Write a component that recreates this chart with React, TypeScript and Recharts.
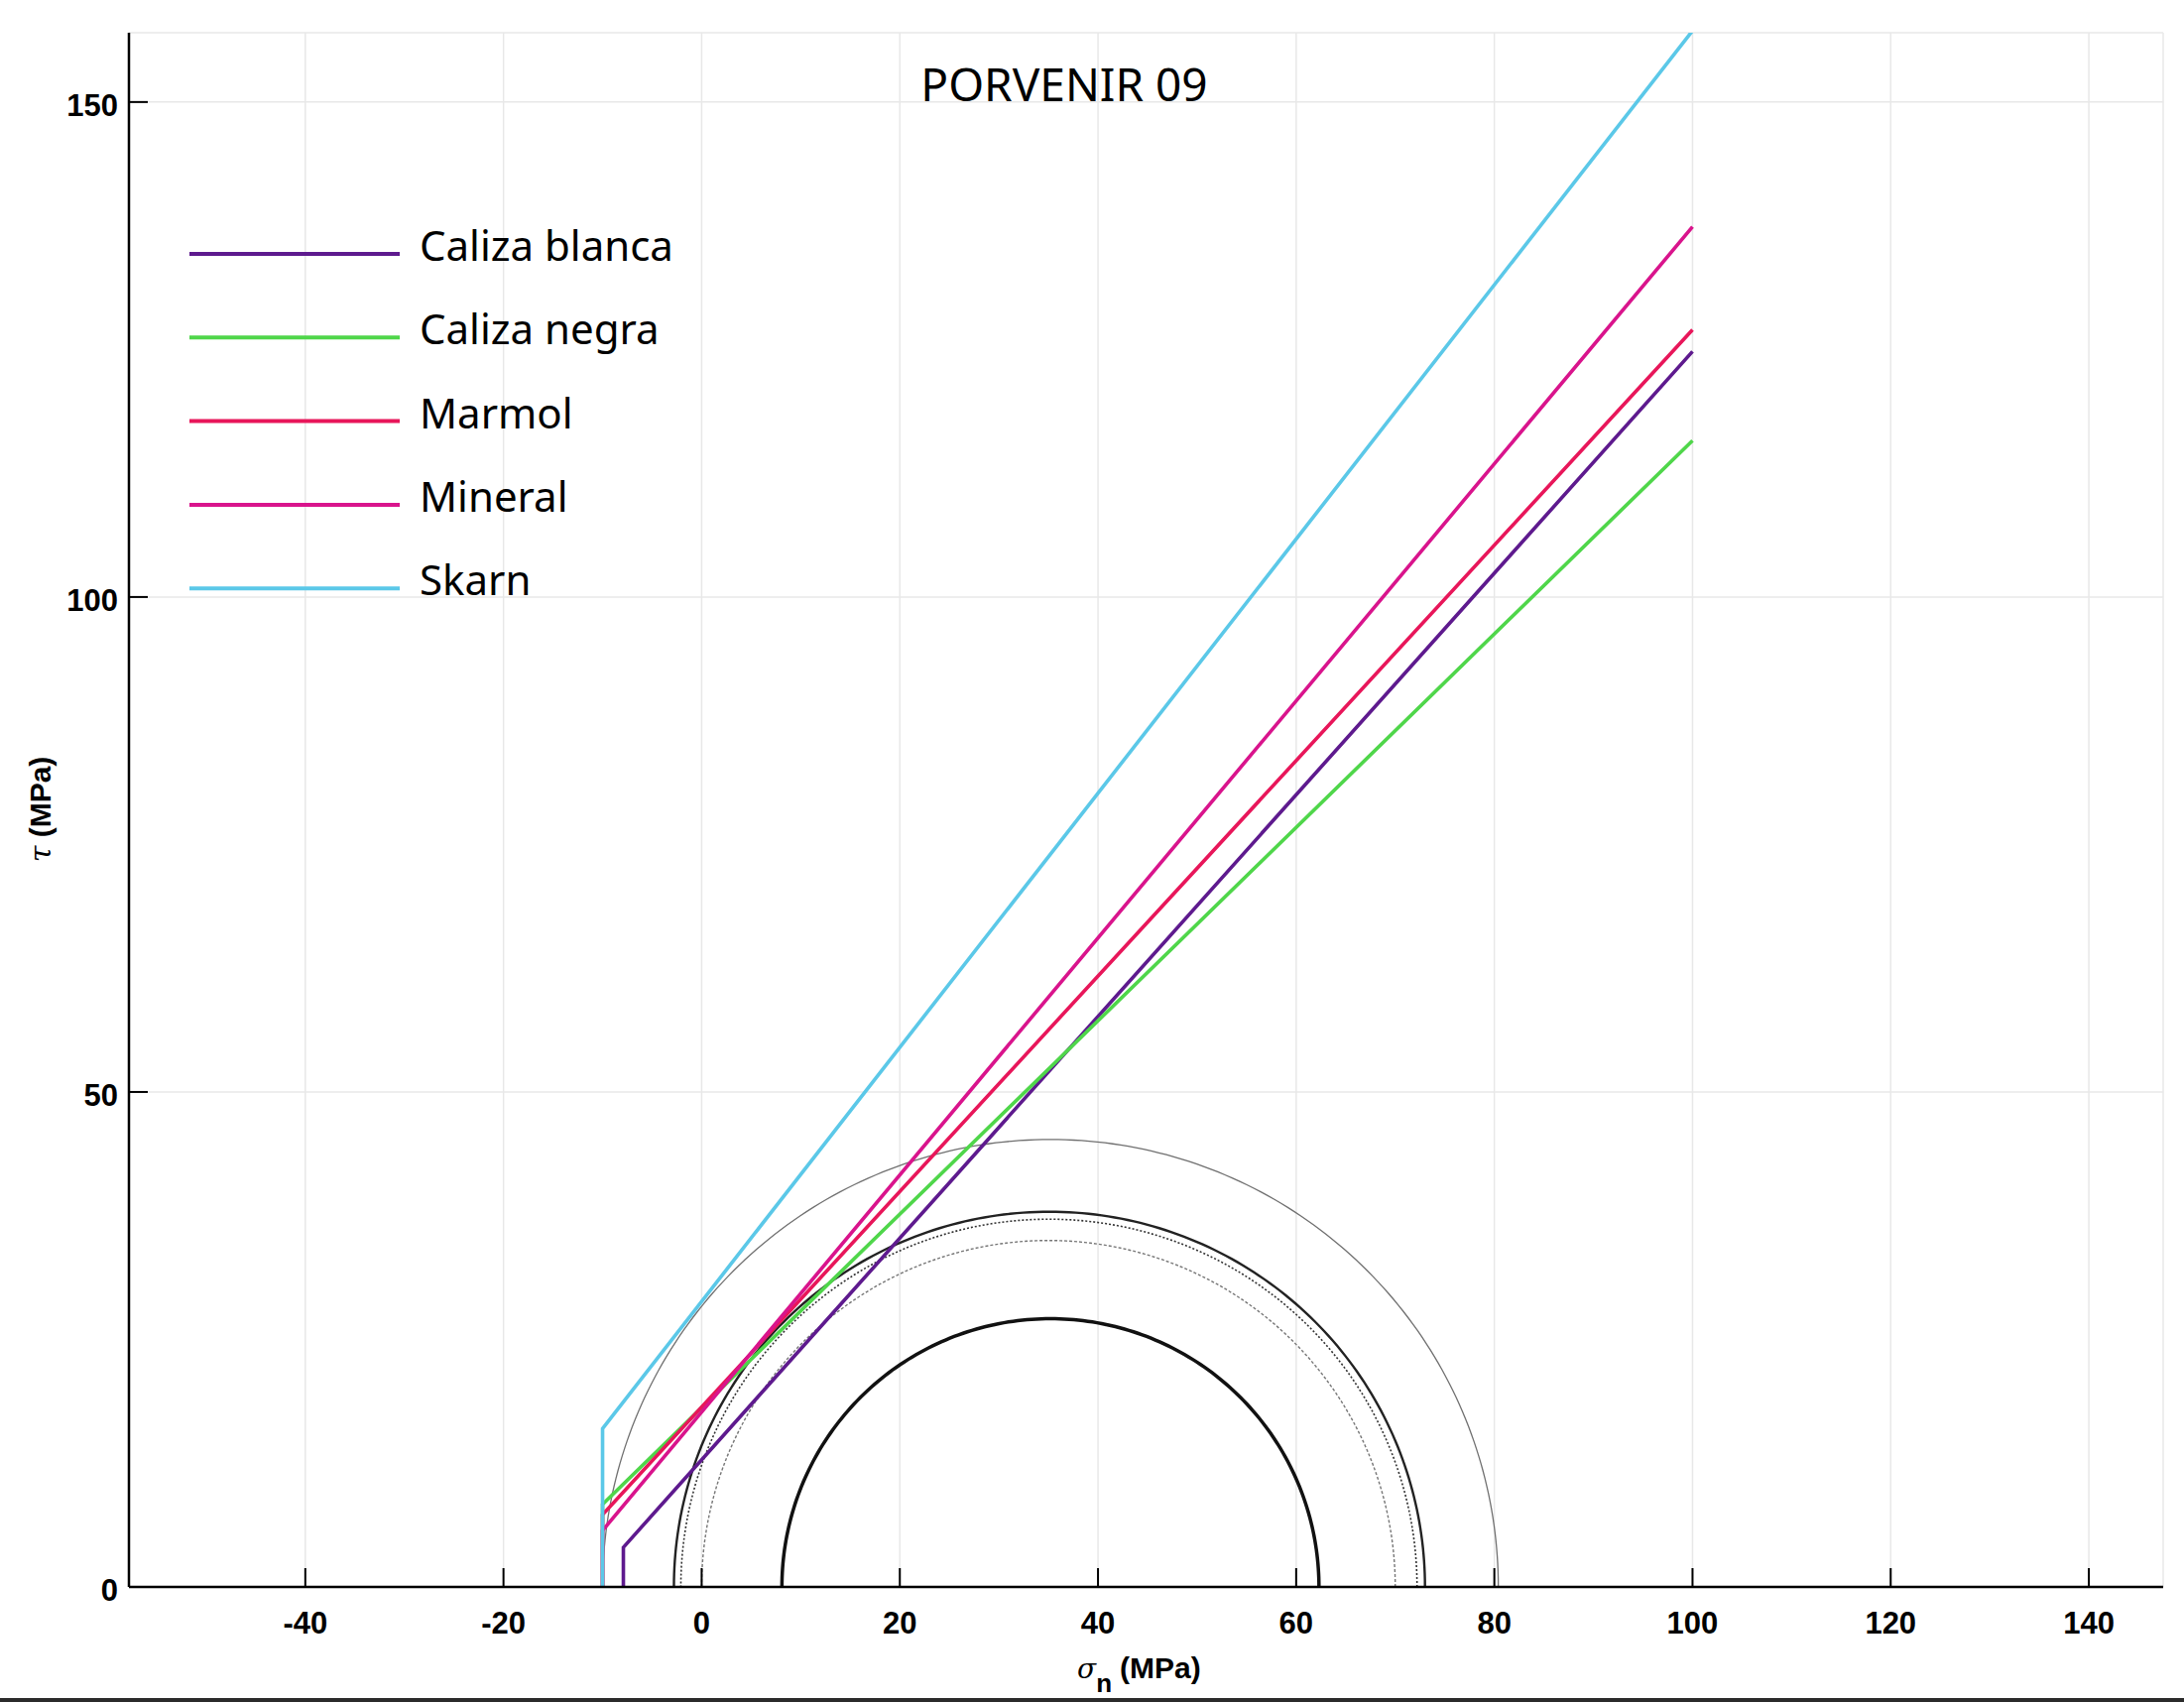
import { ComposedChart, Line, XAxis, YAxis, CartesianGrid, Legend } from "recharts";

const xTicks = [-40, -20, 0, 20, 40, 60, 80, 100, 120, 140];
const yTicks = [0, 50, 100, 150];

// Mohr circles (sigma3, sigma1 in MPa)
const circleSigma3 = [8.1, 0, -2.1, -2.8, -10];
const circleSigma1 = [62.3, 70, 72.2, 73.0, 80.4];
const circleStroke = ["#111111", "#777777", "#333333", "#222222", "#707070"];
const circleWidth = [3.5, 1.4, 1.6, 2.4, 1.3];
const circleDash = ["", "3 2", "2 2", "", ""];

// Envelopes with tension cut-off
const rockNames = ["Caliza blanca", "Caliza negra", "Marmol", "Mineral", "Skarn"];
const rockColors = ["#5E1A8E", "#4FD64A", "#E8165A", "#D9148C", "#5BC8E8"];
const tensionCutoff = [-7.9, -10, -10, -10, -10];
const tauAtCutoff = [4.0, 8.35, 7.3, 5.7, 16.0];
const tauAt100 = [124.8, 115.8, 127.0, 137.4, 157.2];

const TICK_FONT = "'Liberation Sans', Arial, sans-serif";

function semicircle(s3: number, s1: number) {
  const c = (s1 + s3) / 2;
  const r = (s1 - s3) / 2;
  const pts = [];
  for (let i = 0; i <= 180; i++) {
    const a = (Math.PI * i) / 180;
    pts.push({ s: c + r * Math.cos(a), t: r * Math.sin(a) });
  }
  return pts;
}

const circles = circleSigma3.map((s3, i) => semicircle(s3, circleSigma1[i]));

const envelopes = rockNames.map((name, i) => ({
  name,
  color: rockColors[i],
  data: [
    { s: tensionCutoff[i], t: 0 },
    { s: tensionCutoff[i], t: tauAtCutoff[i] },
    { s: 100, t: tauAt100[i] },
  ],
}));

const XTick = ({ x, y, payload }: any) => (
  <g>
    <line x1={x} y1={y} x2={x} y2={y - 19} stroke="#000" strokeWidth={2} />
    <text x={x} y={y + 47} textAnchor="middle" fontFamily={TICK_FONT} fontWeight="bold" fontSize={31} fill="#000">
      {payload.value}
    </text>
  </g>
);

const YTick = ({ x, y, payload }: any) => (
  <g>
    <line x1={x} y1={y} x2={x + 19} y2={y} stroke="#000" strokeWidth={2} />
    <text x={x - 11} y={y + 14} textAnchor="end" fontFamily={TICK_FONT} fontWeight="bold" fontSize={31} fill="#000">
      {payload.value}
    </text>
  </g>
);

const LegendBox = () => (
  <svg width={700} height={420} style={{ display: "block", overflow: "visible" }}>
    {envelopes.map((e, i) => {
      const cy = 36 + i * 84.3;
      return (
        <g key={e.name}>
          <line x1={0} y1={cy} x2={212} y2={cy} stroke={e.color} strokeWidth={4} />
          <text x={232} y={cy + 7} fontFamily="'Noto Sans', sans-serif" fontSize={42} fill="#000">
            {e.name}
          </text>
        </g>
      );
    })}
  </svg>
);

export default function App() {
  return (
    <div style={{ position: "absolute", left: 0, top: 0, width: 2202, height: 1716, background: "#fff", overflow: "hidden" }}>
      <ComposedChart width={2202} height={1716} margin={{ top: 33, right: 21, bottom: 16, left: 10 }}>
        <CartesianGrid stroke="#e8e8e8" strokeWidth={1.5} />
        <XAxis
          type="number"
          dataKey="s"
          domain={[-57.8, 147.5]}
          ticks={xTicks}
          interval={0}
          allowDataOverflow
          height={100}
          tickLine={false}
          tickSize={0}
          tickMargin={0}
          tick={<XTick />}
          axisLine={{ stroke: "#000", strokeWidth: 2.5 }}
        />
        <YAxis
          type="number"
          dataKey="t"
          domain={[0, 157]}
          ticks={yTicks}
          interval={0}
          allowDataOverflow
          width={120}
          tickLine={false}
          tickSize={0}
          tickMargin={0}
          tick={<YTick />}
          axisLine={{ stroke: "#000", strokeWidth: 2.5 }}
        />
        {circles.map((pts, i) => (
          <Line
            key={"c" + i}
            data={pts}
            dataKey="t"
            type="linear"
            stroke={circleStroke[i]}
            strokeWidth={circleWidth[i]}
            strokeDasharray={circleDash[i] || undefined}
            dot={false}
            activeDot={false}
            legendType="none"
            isAnimationActive={false}
          />
        ))}
        {envelopes.map((e) => (
          <Line
            key={e.name}
            name={e.name}
            data={e.data}
            dataKey="t"
            type="linear"
            stroke={e.color}
            strokeWidth={3.6}
            dot={false}
            activeDot={false}
            isAnimationActive={false}
          />
        ))}
        <Legend
          layout="vertical"
          align="center"
          verticalAlign="middle"
          wrapperStyle={{ position: "absolute", left: 191, top: 220, width: 700, height: 420 }}
          content={LegendBox}
        />
      </ComposedChart>
      <svg width={2202} height={1716} style={{ position: "absolute", left: 0, top: 0, pointerEvents: "none" }}>
        <text x={1073} y={102} textAnchor="middle" fontFamily="'Noto Sans', sans-serif" fontSize={46} fill="#000">
          PORVENIR 09
        </text>
        <text x={1086} y={1692} fontFamily={TICK_FONT} fontWeight="bold" fontSize={30} fill="#000">
          <tspan fontFamily="'DejaVu Serif', serif" fontStyle="italic" fontWeight="normal" fontSize={28}>σ</tspan>
          <tspan dy={14} fontSize={26}>n</tspan>
          <tspan dy={-14} dx={8}>(MPa)</tspan>
        </text>
        <g transform="translate(51,816) rotate(-90)">
          <text x={0} y={0} textAnchor="middle" fontFamily={TICK_FONT} fontWeight="bold" fontSize={30} fill="#000">
            <tspan fontFamily="'DejaVu Serif', serif" fontStyle="italic" fontWeight="normal">τ</tspan> (MPa)
          </text>
        </g>
      </svg>
      <div style={{ position: "absolute", left: 0, top: 1712, width: 2202, height: 4, background: "#2b2b2b" }} />
    </div>
  );
}
